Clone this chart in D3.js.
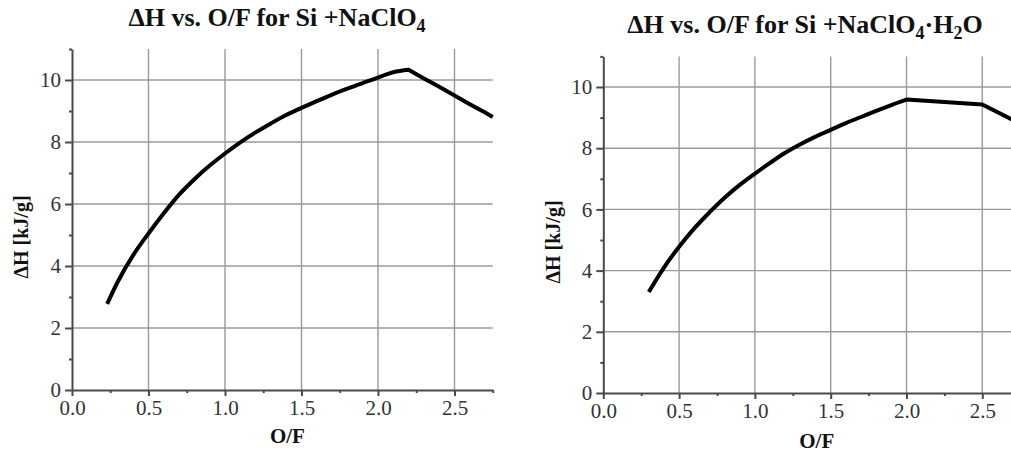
<!DOCTYPE html>
<html>
<head>
<meta charset="utf-8">
<script src="https://cdn.jsdelivr.net/npm/d3@7"></script>
<style>
  html, body { margin: 0; padding: 0; background: #fff; }
  svg { display: block; background: #fff; }
  .axis text { font-family: 'Liberation Serif', 'Times New Roman', serif; font-size: 21px; fill: #333; }
  .axis path, .axis line { stroke: #4a4a4a; stroke-width: 2; }
  .grid line { stroke: #9a9a9a; stroke-width: 1.4; }
  .title, .axis-label { font-family: 'Liberation Serif', 'Times New Roman', serif; font-weight: bold; fill: #111; }
</style>
</head>
<body>
<svg id="chart" width="1011" height="454"></svg>
<script>
'use strict';

// Si + NaClO4 : O/F ratio vs. heat of reaction (kJ/g)
var ofNaClO4 = [0.23, 0.3, 0.4, 0.5, 0.6, 0.7, 0.8, 0.9, 1.0, 1.1, 1.2, 1.3, 1.4, 1.5,
  1.6, 1.7, 1.8, 1.9, 2.0, 2.1, 2.2, 2.3, 2.4, 2.5, 2.6, 2.7, 2.75];
var dhNaClO4 = [2.78, 3.5, 4.35, 5.05, 5.7, 6.3, 6.8, 7.24, 7.63, 7.99, 8.31, 8.6, 8.87, 9.1,
  9.32, 9.53, 9.72, 9.9, 10.08, 10.25, 10.33, 10.05, 9.78, 9.5, 9.22, 8.95, 8.81];

// Si + NaClO4·H2O
var ofNaClO4H2O = [0.3, 0.4, 0.5, 0.6, 0.7, 0.8, 0.9, 1.0, 1.1, 1.2, 1.3, 1.4, 1.5,
  1.6, 1.7, 1.8, 1.9, 2.0, 2.5, 2.75];
var dhNaClO4H2O = [3.3, 4.1, 4.78, 5.38, 5.9, 6.38, 6.8, 7.17, 7.52, 7.85, 8.13, 8.38, 8.6,
  8.82, 9.02, 9.22, 9.41, 9.59, 9.43, 8.8];

// axis ticks
var xMajorTicks = [0, 0.5, 1, 1.5, 2, 2.5];
var xMinorTicks = [0.25, 0.75, 1.25, 1.75, 2.25, 2.75];
var yMajorTicks = [0, 2, 4, 6, 8, 10];
var yMinorTicks = [1, 3, 5, 7, 9, 11];
var xDomain = [0, 2.75];
var yDomain = [0, 11];

var svg = d3.select('#chart');

drawPanel({
  left: 72, right: 492.75, top: 49, bottom: 390,
  titleX: 277, titleY: 26, subscripts: ['4'],
  xLabelY: 443, yLabelX: 28, yLabelY: 237
}, ofNaClO4, dhNaClO4);

drawPanel({
  left: 603.3, right: 1020.2, top: 56.4, bottom: 393,
  titleX: 805, titleY: 33, subscripts: ['4', '2'],
  xLabelY: 448, yLabelX: 560, yLabelY: 242
}, ofNaClO4H2O, dhNaClO4H2O);


/*
 * helper functions
 */

function drawPanel(cfg, xs, ys) {
  var x = d3.scaleLinear().domain(xDomain).range([cfg.left, cfg.right]);
  var y = d3.scaleLinear().domain(yDomain).range([cfg.bottom, cfg.top]);
  var g = svg.append('g');

  // grid lines
  var grid = g.append('g').attr('class', 'grid');
  grid.selectAll('.vgrid')
    .data(xMajorTicks.filter(function(d) { return d > 0; }))
    .enter().append('line')
    .attr('x1', function(d) { return x(d); })
    .attr('x2', function(d) { return x(d); })
    .attr('y1', y(yDomain[1]))
    .attr('y2', y(0));
  grid.selectAll('.hgrid')
    .data(yMajorTicks.filter(function(d) { return d > 0; }))
    .enter().append('line')
    .attr('y1', function(d) { return y(d); })
    .attr('y2', function(d) { return y(d); })
    .attr('x1', x(0))
    .attr('x2', x(xDomain[1]));

  // minor ticks (drawn with their own axes, no labels)
  g.append('g').attr('class', 'axis')
    .attr('transform', 'translate(0,' + y(0) + ')')
    .call(d3.axisBottom(x).tickValues(xMinorTicks).tickSize(3).tickFormat(''))
    .select('.domain').remove();
  g.append('g').attr('class', 'axis')
    .attr('transform', 'translate(' + x(0) + ',0)')
    .call(d3.axisLeft(y).tickValues(yMinorTicks).tickSize(3).tickFormat(''))
    .select('.domain').remove();

  // major axes
  g.append('g').attr('class', 'axis')
    .attr('transform', 'translate(0,' + y(0) + ')')
    .call(d3.axisBottom(x).tickValues(xMajorTicks).tickSize(6).tickSizeOuter(0)
      .tickPadding(4).tickFormat(d3.format('.1f')));
  g.append('g').attr('class', 'axis')
    .attr('transform', 'translate(' + x(0) + ',0)')
    .call(d3.axisLeft(y).tickValues(yMajorTicks).tickSize(7).tickSizeOuter(0)
      .tickPadding(4).tickFormat(d3.format('d')));

  // curve: smooth rise up to the maximum, straight segments after it
  var points = d3.zip(xs, ys);
  var peak = d3.maxIndex(ys);
  var smooth = d3.line()
    .curve(d3.curveMonotoneX)
    .x(function(d) { return x(d[0]); })
    .y(function(d) { return y(d[1]); });
  var straight = d3.line()
    .x(function(d) { return x(d[0]); })
    .y(function(d) { return y(d[1]); });
  g.append('path')
    .attr('d', smooth(points.slice(0, peak + 1)) + straight(points.slice(peak)).replace(/^M/, 'L'))
    .attr('fill', 'none')
    .attr('stroke', '#000')
    .attr('stroke-width', 4)
    .attr('stroke-linejoin', 'round');

  // title with subscripts
  var title = g.append('text')
    .attr('class', 'title')
    .attr('x', cfg.titleX)
    .attr('y', cfg.titleY)
    .attr('text-anchor', 'middle')
    .style('font-size', '26px');
  title.append('tspan').text('\u0394H vs. O/F for Si +NaClO');
  title.append('tspan').attr('dy', 6).style('font-size', '18px').text(cfg.subscripts[0]);
  if (cfg.subscripts.length > 1) {
    title.append('tspan').attr('dy', -6).text('\u00b7H');
    title.append('tspan').attr('dy', 6).style('font-size', '18px').text(cfg.subscripts[1]);
    title.append('tspan').attr('dy', -6).text('O');
  }

  // axis labels
  g.append('text')
    .attr('class', 'axis-label')
    .attr('x', (cfg.left + cfg.right) / 2 + 5)
    .attr('y', cfg.xLabelY)
    .attr('text-anchor', 'middle')
    .style('font-size', '21px')
    .text('O/F');
  g.append('text')
    .attr('class', 'axis-label')
    .attr('transform', 'translate(' + cfg.yLabelX + ',' + cfg.yLabelY + ') rotate(-90)')
    .attr('text-anchor', 'middle')
    .style('font-size', '20px')
    .text('\u0394H [kJ/g]');
}
</script>
</body>
</html>
